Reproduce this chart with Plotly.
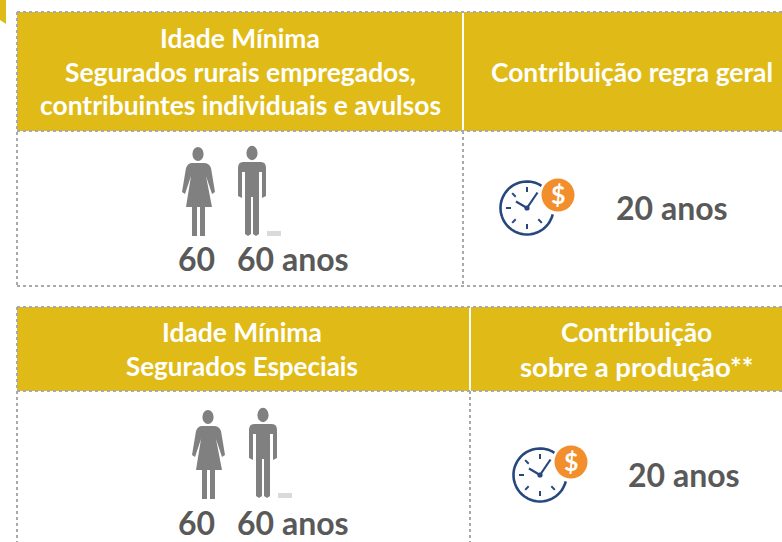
import numpy as np
import plotly.graph_objects as go

# Content
header_top_left = ["Idade Mínima", "Segurados rurais empregados,", "contribuintes individuais e avulsos"]
header_top_right = ["Contribuição regra geral"]
header_bottom_left = ["Idade Mínima", "Segurados Especiais"]
header_bottom_right = ["Contribuição", "sobre a produção**"]
age_women = [60, 60]
age_men = [60, 60]
contribution_years = [20, 20]
unit = "anos"

W, H = 782, 542
YELLOW = "#E0BB17"
DOT = "#A9A9A9"
GREY = "#808080"
TEXT = "#595959"
NAVY = "#27477F"
ORANGE = "#F28E2B"

fig = go.Figure()
shapes = []
ann = []


def rect(x0, y0, x1, y1, color):
    shapes.append(dict(type="rect", x0=x0, y0=y0, x1=x1, y1=y1, fillcolor=color, line_width=0, layer="below"))


def dotted(x0, y0, x1, y1):
    shapes.append(dict(type="line", x0=x0, y0=y0, x1=x1, y1=y1, line=dict(color=DOT, width=2, dash="dot")))


def path(d, fill=None, line=None, width=0):
    s = dict(type="path", path=d, line=dict(width=width, color=line or "rgba(0,0,0,0)"))
    if fill:
        s["fillcolor"] = fill
    shapes.append(s)


def ellipse(cx, cy, rx, ry, color):
    shapes.append(dict(type="circle", x0=cx - rx, x1=cx + rx, y0=cy - ry, y1=cy + ry, fillcolor=color, line_width=0))


def text(x, y, s, size, color, font="Lato"):
    ann.append(dict(x=x, y=y, text=str(s), showarrow=False, xanchor="center", yanchor="middle",
                    font=dict(family=font, size=size, color=color, weight="bold")))


def woman(dx, dy):
    ellipse(198 + dx, 154 + dy, 5.6, 7, GREY)
    path(f"M{192+dx},{163+dy} L{204+dx},{163+dy} Q{209+dx},{163+dy} {211+dx},{168+dy} L{215+dx},{192+dy} "
         f"L{212+dx},{194+dy} L{206+dx},{176+dy} L{212+dx},{207+dy} L{205+dx},{207+dy} L{205+dx},{236+dy} "
         f"L{200+dx},{236+dy} L{200+dx},{207+dy} L{197+dx},{207+dy} L{197+dx},{236+dy} L{192+dx},{236+dy} "
         f"L{192+dx},{207+dy} L{186+dx},{207+dy} L{191+dx},{176+dy} L{185+dx},{194+dy} L{182+dx},{192+dy} "
         f"L{186+dx},{168+dy} Q{188+dx},{163+dy} {192+dx},{163+dy} Z", fill=GREY)


def man(dx, dy):
    ellipse(252 + dx, 153 + dy, 5.6, 7.2, GREY)
    path(f"M{243+dx},{162+dy} L{261+dx},{162+dy} Q{266+dx},{162+dy} {266+dx},{168+dy} L{266+dx},{196+dy} "
         f"L{262+dx},{198+dy} L{262+dx},{172+dy} L{259+dx},{172+dy} L{259+dx},{234+dy} L{256+dx},{236+dy} "
         f"L{253+dx},{234+dy} L{253+dx},{197+dy} L{251+dx},{197+dy} L{251+dx},{234+dy} L{248+dx},{236+dy} "
         f"L{245+dx},{234+dy} L{245+dx},{172+dy} L{242+dx},{172+dy} L{242+dx},{198+dy} L{238+dx},{196+dy} "
         f"L{238+dx},{168+dy} Q{238+dx},{162+dy} {243+dx},{162+dy} Z", fill=GREY)
    rect(267 + dx, 231 + dy, 281 + dx, 236 + dy, "#DADADA")


def clock(dx, dy):
    cx, cy, r = 527 + dx, 208 + dy, 26.5
    # the ring leaves a gap towards the coin at the upper right
    a = np.radians(np.linspace(14, 303, 60))
    pts = [(cx + r * np.cos(t), cy + r * np.sin(t)) for t in a]
    path("M" + " L".join(f"{x:.1f},{y:.1f}" for x, y in pts), line=NAVY, width=2.6)
    for deg in range(0, 360, 45):
        t = np.radians(deg)
        if deg == 0 or deg == 315:
            continue
        shapes.append(dict(type="line", x0=cx + 16 * np.cos(t), y0=cy + 16 * np.sin(t),
                           x1=cx + 21 * np.cos(t), y1=cy + 21 * np.sin(t), line=dict(color=NAVY, width=2)))
    shapes.append(dict(type="line", x0=cx, y0=cy, x1=cx + 10.5, y1=cy - 15.5, line=dict(color=NAVY, width=2.2)))
    shapes.append(dict(type="line", x0=cx, y0=cy, x1=cx - 11, y1=cy - 6.5, line=dict(color=NAVY, width=2.2)))
    ellipse(cx, cy, 2.6, 2.6, NAVY)
    ellipse(558 + dx, 195 + dy, 16.5, 16.5, ORANGE)
    text(558 + dx, 194 + dy, "$", 25, "#FFFFFF")


# Corner tab
path("M0,0 L6,0 L6,24 L0,20 Z", fill=YELLOW)

# Top panel
rect(17, 12, W, 131, YELLOW)
rect(462, 12, 464, 131, "#FFFFFF")
dotted(17, 12, W, 12)
dotted(17, 12, 17, 286)
dotted(17, 131, W, 131)
dotted(17, 286, W, 286)
dotted(463, 131, 463, 286)

# Bottom panel
rect(17, 307, W, 391, YELLOW)
rect(469, 307, 471, 391, "#FFFFFF")
dotted(17, 307, W, 307)
dotted(17, 307, 17, H)
dotted(17, 391, W, 391)
dotted(470, 391, 470, H)

# Icons
woman(0, 0)
man(0, 0)
woman(10, 263)
man(11, 262)
clock(0, 0)
clock(13, 267)

# Header text
HS = 26.4
for y, s in zip([38, 72, 105], header_top_left):
    text(240, y, s, HS, "#FFFFFF")
text(632, 72, header_top_right[0], HS, "#FFFFFF")
for y, s, size in zip([332, 366], header_bottom_left, [HS, 26]):
    text(242, y, s, size, "#FFFFFF")
for y, s, size in zip([332, 366], header_bottom_right, [HS, 27.5]):
    text(636, y, s, size, "#FFFFFF")

# Values
VS = 32
text(196, 258, age_women[0], VS, TEXT)
text(293, 258, f"{age_men[0]} {unit}", VS, TEXT)
text(196, 522.5, age_women[1], VS, TEXT)
text(293, 522.5, f"{age_men[1]} {unit}", VS, TEXT)
text(672, 207, f"{contribution_years[0]} {unit}", VS, TEXT)
text(684, 474, f"{contribution_years[1]} {unit}", VS, TEXT)

fig.update_layout(
    width=W, height=H, autosize=False,
    margin=dict(l=0, r=0, t=0, b=0),
    paper_bgcolor="#FFFFFF", plot_bgcolor="#FFFFFF",
    showlegend=False, shapes=shapes, annotations=ann,
    xaxis=dict(range=[0, W], visible=False, fixedrange=True),
    yaxis=dict(range=[H, 0], visible=False, fixedrange=True),
)
fig.write_html("out.html", config=dict(displayModeBar=False),
               post_script="document.body.style.margin='0';document.documentElement.style.overflow='hidden';")
